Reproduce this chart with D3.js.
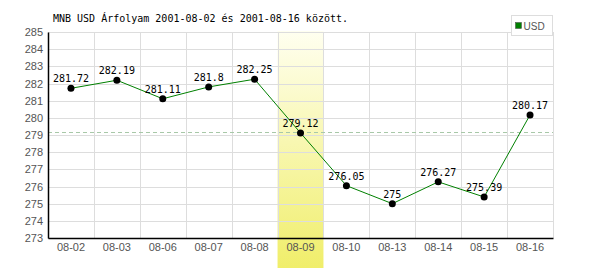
<!DOCTYPE html>
<html lang="hu">
<head>
<meta charset="UTF-8" />
<title>MNB USD árfolyam</title>
<style>
  body { margin: 0; background: #fff; }
  .tick text { font: 11px "Liberation Sans", Arial, sans-serif; fill: #555; }
  .mono { font: 10px "DejaVu Sans Mono", monospace; fill: #000; }
</style>
<script src="https://d3js.org/d3.v7.min.js"></script>
</head>
<body>
<div id="chart"></div>
<script>
const days = ["08-02", "08-03", "08-06", "08-07", "08-08", "08-09", "08-10", "08-13", "08-14", "08-15", "08-16"];
const usd = [281.72, 282.19, 281.11, 281.8, 282.25, 279.12, 276.05, 275, 276.27, 275.39, 280.17];
const yTicks = [273, 274, 275, 276, 277, 278, 279, 280, 281, 282, 283, 284, 285];
const highlightDay = "08-09";
const title = "MNB USD Árfolyam 2001-08-02 és 2001-08-16 között.";

const width = 600, height = 270;
const margin = { top: 32, right: 47, bottom: 32, left: 48 };

const svg = d3.select("#chart").append("svg")
  .attr("width", width).attr("height", height);

const x = d3.scaleBand().domain(days).range([margin.left, width - margin.right]);
const y = d3.scaleLinear().domain([273, 285]).range([height - margin.bottom, margin.top]);

// highlighted day
const grad = svg.append("defs").append("linearGradient")
  .attr("id", "hl").attr("x1", 0).attr("y1", 0).attr("x2", 0).attr("y2", 1);
grad.append("stop").attr("offset", "0%").attr("stop-color", "#fffff0");
grad.append("stop").attr("offset", "100%").attr("stop-color", "#f0ee6a");

svg.append("rect")
  .attr("x", x(highlightDay)).attr("width", x.bandwidth())
  .attr("y", y(285) - 1).attr("height", height - 2 - (y(285) - 1))
  .attr("fill", "url(#hl)");

// grid
const grid = svg.append("g").attr("stroke", "#ddd").attr("stroke-width", 1);
grid.selectAll("line.h").data(yTicks).join("line").attr("class", "h")
  .attr("x1", margin.left).attr("x2", width - margin.right)
  .attr("y1", d => Math.round(y(d)) + 0.5).attr("y2", d => Math.round(y(d)) + 0.5);
grid.selectAll("line.v").data(days).join("line").attr("class", "v")
  .attr("x1", d => Math.round(x(d) + x.bandwidth()) + 0.5)
  .attr("x2", d => Math.round(x(d) + x.bandwidth()) + 0.5)
  .attr("y1", margin.top).attr("y2", height - margin.bottom);

// mean line
const mean = d3.mean(usd);
svg.append("line")
  .attr("x1", margin.left).attr("x2", width - margin.right)
  .attr("y1", Math.round(y(mean)) + 0.5).attr("y2", Math.round(y(mean)) + 0.5)
  .attr("stroke", "#a8c8a8").attr("stroke-dasharray", "4,3");

// axes
const yAxis = svg.append("g").attr("transform", `translate(${margin.left},0)`)
  .call(d3.axisLeft(y).tickValues(yTicks).tickFormat(d3.format("d")).tickSize(0).tickPadding(5));
yAxis.select(".domain").attr("stroke", "#000").attr("stroke-width", 1.5);

const xAxis = svg.append("g").attr("transform", `translate(0,${height - margin.bottom})`)
  .call(d3.axisBottom(x).tickSize(0).tickPadding(5));
xAxis.select(".domain").attr("stroke", "#000").attr("stroke-width", 1.5);

// series
const cx = d => x(d) + x.bandwidth() / 2;
svg.append("path")
  .datum(usd)
  .attr("fill", "none").attr("stroke", "#008000").attr("stroke-width", 1)
  .attr("d", d3.line().x((d, i) => cx(days[i])).y(d => y(d)));

svg.selectAll("circle.pt").data(usd).join("circle").attr("class", "pt")
  .attr("cx", (d, i) => cx(days[i])).attr("cy", d => y(d)).attr("r", 3.5)
  .attr("fill", "#000");

svg.selectAll("text.val").data(usd).join("text").attr("class", "val mono")
  .attr("x", (d, i) => cx(days[i])).attr("y", d => y(d) - 6)
  .attr("text-anchor", "middle")
  .text(d => d);

// title
svg.append("text").attr("class", "mono").attr("x", 53).attr("y", 22).text(title);

// legend
const lg = svg.append("g").attr("transform", "translate(511.5,15.5)");
lg.append("rect").attr("width", 41).attr("height", 20).attr("fill", "#fff").attr("stroke", "#ddd");
lg.append("rect").attr("x", 4).attr("y", 7).attr("width", 6).attr("height", 6)
  .attr("fill", "#008000").attr("stroke", "#444").attr("stroke-width", 0.5);
lg.append("text").attr("x", 12).attr("y", 14)
  .style("font", "10px 'Liberation Sans', Arial, sans-serif").attr("fill", "#555").text("USD");
</script>
</body>
</html>
